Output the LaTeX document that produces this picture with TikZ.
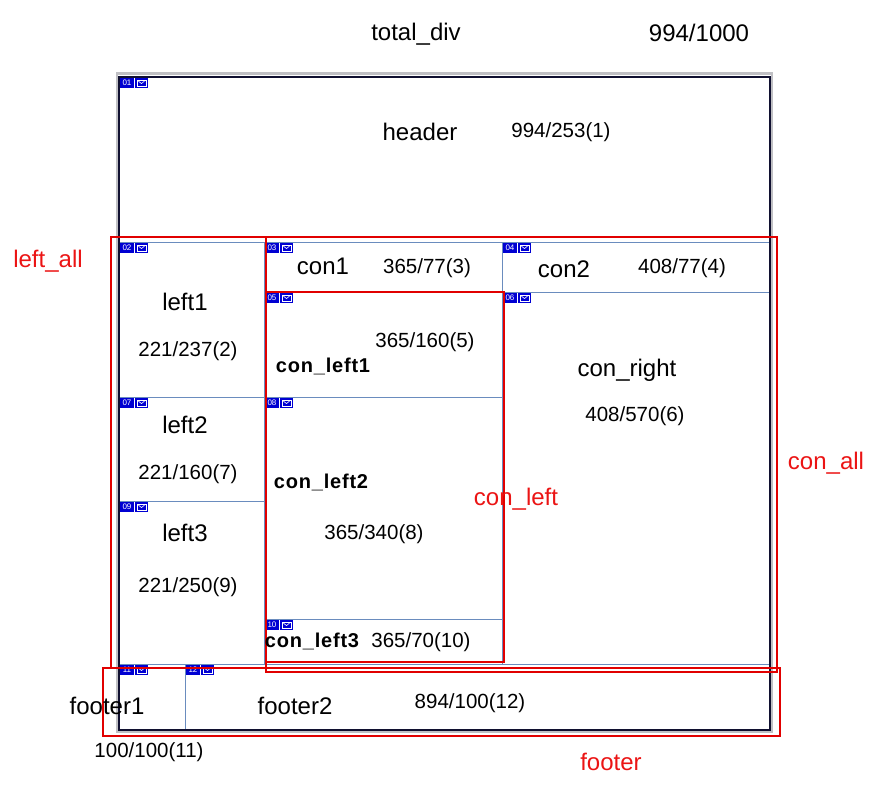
\documentclass[tikz,border=0pt]{standalone}
\usepackage{fontspec}
\setmainfont{Liberation Sans}
\newfontfamily\boldsp[LetterSpace=4]{Liberation Sans}
\definecolor{gridblue}{RGB}{106,140,190}
\definecolor{boxred}{RGB}{225,0,0}
\definecolor{txtred}{RGB}{235,20,20}
\definecolor{tagblue}{RGB}{0,0,210}
\definecolor{framedark}{RGB}{16,16,48}
\definecolor{shadow}{RGB}{192,192,196}
\tikzset{
  lbl/.style={inner sep=0pt, font=\fontsize{24}{28}\selectfont},
  num/.style={inner sep=0pt, font=\fontsize{20.5}{24}\selectfont},
  bold/.style={inner sep=0pt, font=\fontsize{20}{24}\boldsp\bfseries},
  redlbl/.style={inner sep=0pt, text=txtred, font=\fontsize{24}{28}\selectfont},
  grid/.style={draw=gridblue, line width=0.9pt},
  redbox/.style={draw=boxred, line width=1.3pt},
  tagnum/.style={fill=tagblue, text=white, inner sep=0pt, minimum width=13.5pt, minimum height=9.5pt, anchor=north west, font=\fontsize{8}{8}\selectfont},
  tagicon/.style={fill=tagblue, inner sep=0pt, minimum width=13.5pt, minimum height=9.5pt, anchor=north west}
}
\newcommand{\tagat}[3]{%
  \node[tagnum] (tn#3) at (#1,#2) {#3};
  \node[tagicon] (ti#3) at (#1+14.5,#2) {};
  \draw[white, line width=0.6pt] ($(ti#3.center)+(-4.5,-3)$) rectangle ($(ti#3.center)+(4.5,3)$);
  \draw[white, line width=0.6pt] ($(ti#3.center)+(-3,-1.8)$) -- ($(ti#3.center)+(0,0.6)$) -- ($(ti#3.center)+(3,-1.8)$);
}
\usetikzlibrary{calc}
\begin{document}
\begin{tikzpicture}[x=1pt, y=-1pt]
\useasboundingbox (0,0) rectangle (880,790);
% frame
\fill[shadow] (116,72) rectangle (773,733);
\fill[white] (118,75) rectangle (771,731);
% grid lines
\draw[grid] (119,242) -- (770,242);
\draw[grid] (264,242) -- (264,664);
\draw[grid] (502,242) -- (502,664);
\draw[grid] (264,292) -- (770,292);
\draw[grid] (119,397) -- (502,397);
\draw[grid] (119,501) -- (264,501);
\draw[grid] (264,619) -- (502,619);
\draw[grid] (119,664) -- (770,664);
\draw[grid] (185,664) -- (185,730);
\draw[framedark, line width=1.6pt] (119,77) rectangle (770,730);
% tags
\tagat{120}{78}{01}
\tagat{120}{243}{02}
\tagat{265}{243}{03}
\tagat{503}{243}{04}
\tagat{265}{293}{05}
\tagat{503}{293}{06}
\tagat{120}{398}{07}
\tagat{265}{398}{08}
\tagat{120}{502}{09}
\tagat{265}{620}{10}
\tagat{120}{665}{11}
\tagat{186}{665}{12}
% red boxes
\draw[redbox] (111,237) rectangle (266,668);
\draw[redbox] (266,237) rectangle (777,672);
\draw[redbox] (266,292) rectangle (504,662);
\draw[redbox] (103,668) rectangle (780,736);
% labels
\node[lbl] (total) at (416,34) {total\_div};
\node[lbl] (totaln) at (699,33) {994/1000};
\node[lbl] (header) at (420,132) {header};
\node[num] (headern) at (561,132) {994/253(1)};
\node[redlbl] (leftall) at (48,261) {left\_all};
\node[lbl] (con1) at (323,266) {con1};
\node[num] (con1n) at (427,268) {365/77(3)};
\node[lbl] (con2) at (564,269) {con2};
\node[num] (con2n) at (682,268) {408/77(4)};
\node[lbl] (left1) at (185,302) {left1};
\node[num] (left1n) at (188,351) {221/237(2)};
\node[num] (cl1n) at (425,342) {365/160(5)};
\node[bold] (cl1) at (323,366) {con\_left1};
\node[lbl] (conright) at (627,370) {con\_right};
\node[num] (conrightn) at (635,416) {408/570(6)};
\node[lbl] (left2) at (185,425) {left2};
\node[num] (left2n) at (188,474) {221/160(7)};
\node[redlbl] (conall) at (826,463) {con\_all};
\node[bold] (cl2) at (321,482) {con\_left2};
\node[redlbl] (conleft) at (516,499) {con\_left};
\node[num] (cl2n) at (374,534) {365/340(8)};
\node[lbl] (left3) at (185,533) {left3};
\node[num] (left3n) at (188,587) {221/250(9)};
\node[bold] (cl3) at (312,641) {con\_left3};
\node[num] (cl3n) at (421,642) {365/70(10)};
\node[lbl] (footer1) at (107,706) {footer1};
\node[lbl] (footer2) at (295,706) {footer2};
\node[num] (footer2n) at (470,703) {894/100(12)};
\node[num] (footer1n) at (149,752) {100/100(11)};
\node[redlbl] (footer) at (611,762) {footer};
\end{tikzpicture}
\end{document}
